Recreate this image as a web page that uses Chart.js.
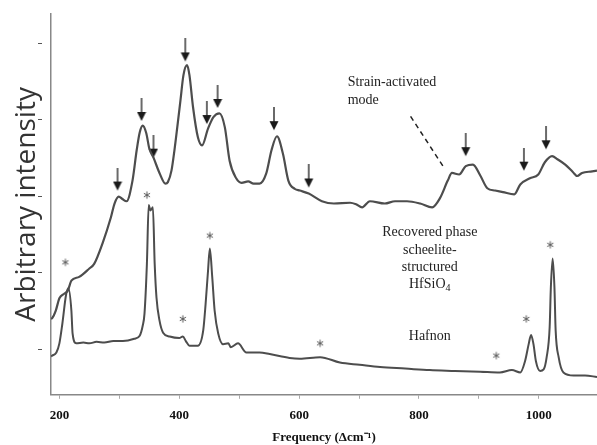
<!DOCTYPE html>
<html>
<head>
<meta charset="utf-8">
<script src="https://cdn.jsdelivr.net/npm/chart.js@4.4.1/dist/chart.umd.min.js"></script>
<style>
  body { margin: 0; background: #fff; }
  #wrap { width: 597px; height: 445px; }
</style>
</head>
<body>
<div id="wrap"><canvas id="myChart" width="597" height="445"></canvas></div>
<script>
// Raman spectra, frequency in Δcm-1, intensity in arbitrary units
const recFreq = [186, 188, 194, 200, 208, 214, 220, 233, 250, 258, 272, 286, 292, 299, 305, 312, 322, 329, 334, 339, 345, 350, 357, 367, 377, 381, 387, 392, 397, 402, 407, 413, 417, 423, 431, 438, 448, 457, 467, 476, 484, 495, 504, 515, 524, 534, 545, 554, 563, 573, 582, 593, 601, 616, 638, 658, 685, 695, 705, 718, 743, 760, 780, 802, 822, 835, 848, 855, 867, 878, 890, 902, 914, 927, 940, 959, 969, 985, 999, 1010, 1022, 1031, 1044, 1057, 1064, 1072, 1089, 1097];
const recInt = [0.39, 0.40, 0.50, 0.66, 0.72, 0.76, 0.89, 0.94, 1.05, 1.11, 1.38, 1.72, 1.90, 1.99, 1.96, 1.93, 2.20, 2.60, 2.83, 2.92, 2.82, 2.62, 2.50, 2.30, 2.16, 2.18, 2.33, 2.60, 2.92, 3.25, 3.58, 3.71, 3.58, 3.16, 2.77, 2.66, 2.88, 3.03, 3.08, 2.90, 2.46, 2.23, 2.17, 2.19, 2.16, 2.16, 2.29, 2.60, 2.78, 2.55, 2.20, 2.09, 2.07, 2.03, 1.93, 1.90, 1.91, 1.89, 1.85, 1.93, 1.90, 1.93, 1.93, 1.90, 1.85, 1.97, 2.20, 2.30, 2.28, 2.39, 2.41, 2.27, 2.10, 2.07, 2.05, 2.02, 2.15, 2.23, 2.28, 2.44, 2.52, 2.48, 2.41, 2.31, 2.26, 2.30, 2.32, 2.33];

const hafFreq = [186, 188, 195, 200, 205, 211, 215, 220, 222, 228, 240, 250, 262, 275, 290, 306, 325, 334, 339, 342, 346, 349, 352, 356, 359, 362, 367, 373, 384, 400, 406, 411, 417, 431, 440, 444, 448, 451, 455, 459, 465, 473, 482, 486, 498, 512, 534, 551, 584, 601, 635, 668, 701, 735, 777, 818, 860, 902, 935, 955, 969, 977, 983, 987, 991, 995, 1002, 1008, 1013, 1018, 1020, 1023, 1026, 1028, 1033, 1041, 1058, 1077, 1097];
const hafInt = [-0.10, -0.09, -0.05, 0.07, 0.33, 0.70, 0.79, 0.50, 0.20, 0.07, 0.08, 0.07, 0.09, 0.08, 0.10, 0.10, 0.13, 0.17, 0.30, 0.46, 1.11, 1.88, 1.81, 1.85, 1.11, 0.67, 0.37, 0.21, 0.16, 0.14, 0.16, 0.10, 0.04, 0.04, 0.24, 0.59, 1.02, 1.31, 0.94, 0.50, 0.20, 0.06, 0.07, 0.02, 0.07, -0.05, -0.05, -0.07, -0.12, -0.13, -0.11, -0.18, -0.21, -0.24, -0.26, -0.28, -0.29, -0.30, -0.31, -0.28, -0.31, -0.16, 0.06, 0.18, 0.06, -0.16, -0.29, -0.27, -0.11, 0.28, 0.80, 1.18, 0.80, 0.24, -0.11, -0.31, -0.35, -0.35, -0.37];

// arrow tips (strain / recovered phase bands)
const arrowFreq = [297, 337, 357, 410, 446, 464, 558, 616, 878, 975, 1012];
const arrowInt = [2.07, 2.98, 2.50, 3.76, 2.94, 3.15, 2.86, 2.11, 2.52, 2.33, 2.61];

// asterisks (hafnon bands)
const starFreq = [210, 346, 406, 451, 635, 929, 979, 1019];
const starInt = [1.13, 2.01, 0.39, 1.48, 0.07, -0.09, 0.39, 1.36];

const xTicks = [200, 300, 400, 500, 600, 700, 800, 900, 1000];
const yTicks = [0, 1, 2, 3, 4];

const strainText = ['Strain-activated', 'mode'];
const strainAt = [681, 3.49];
const dashFrom = [786, 3.04];
const dashTo = [840, 2.39];
const phaseText = ['Recovered phase', 'scheelite-', 'structured', 'HfSiO'];
const phaseAt = [818, 1.52];
const hafnonAt = [818, 0.16];

function makeArrow() {
    const c = document.createElement('canvas');
    c.width = 10; c.height = 46;
    const g = c.getContext('2d');
    g.strokeStyle = '#1a1a1a';
    g.fillStyle = '#1a1a1a';
    g.lineWidth = 1.3;
    g.beginPath();
    g.moveTo(5, 0); g.lineTo(5, 16);
    g.stroke();
    g.beginPath();
    g.moveTo(0.5, 14); g.lineTo(9.5, 14); g.lineTo(5, 23);
    g.closePath();
    g.fill();
    return c;
}

function makeStar() {
    const c = document.createElement('canvas');
    c.width = 10; c.height = 10;
    const g = c.getContext('2d');
    g.strokeStyle = '#555';
    g.lineWidth = 1;
    for (let a = 0; a < 3; a++) {
        const t = Math.PI / 2 + a * Math.PI / 3;
        g.beginPath();
        g.moveTo(5 - 3.6 * Math.cos(t), 5 - 3.6 * Math.sin(t));
        g.lineTo(5 + 3.6 * Math.cos(t), 5 + 3.6 * Math.sin(t));
        g.stroke();
    }
    return c;
}

function pts(xs, ys) {
    return xs.map((x, i) => ({ x: x, y: ys[i] }));
}

const notesPlugin = {
    id: 'notes',
    afterDraw(chart) {
        const ctx = chart.ctx;
        const xs = chart.scales.x, ys = chart.scales.y;
        ctx.save();
        // y tick marks, set off from the axis
        ctx.strokeStyle = '#555';
        ctx.lineWidth = 1;
        yTicks.forEach(v => {
            const py = Math.round(ys.getPixelForValue(v)) + 0.5;
            ctx.beginPath();
            ctx.moveTo(xs.left - 13, py);
            ctx.lineTo(xs.left - 9, py);
            ctx.stroke();
        });

        ctx.fillStyle = '#222';
        ctx.font = '14px "Liberation Serif"';
        ctx.textBaseline = 'middle';
        ctx.textAlign = 'left';
        strainText.forEach((t, i) => {
            ctx.fillText(t, xs.getPixelForValue(strainAt[0]), ys.getPixelForValue(strainAt[1]) + i * 18);
        });

        ctx.strokeStyle = '#222';
        ctx.lineWidth = 1.5;
        ctx.setLineDash([5, 4]);
        ctx.beginPath();
        ctx.moveTo(xs.getPixelForValue(dashFrom[0]), ys.getPixelForValue(dashFrom[1]));
        ctx.lineTo(xs.getPixelForValue(dashTo[0]), ys.getPixelForValue(dashTo[1]));
        ctx.stroke();
        ctx.setLineDash([]);

        ctx.textAlign = 'center';
        const cx = xs.getPixelForValue(phaseAt[0]);
        const cy = ys.getPixelForValue(phaseAt[1]);
        phaseText.forEach((t, i) => {
            if (i < phaseText.length - 1) {
                ctx.fillText(t, cx, cy + i * 17.3);
            } else {
                ctx.font = '14px "Liberation Serif"';
                const w = ctx.measureText(t).width;
                ctx.font = '10px "Liberation Serif"';
                const w2 = ctx.measureText('4').width;
                ctx.font = '14px "Liberation Serif"';
                ctx.textAlign = 'left';
                const x0 = cx - (w + w2) / 2;
                ctx.fillText(t, x0, cy + i * 17.3);
                ctx.font = '10px "Liberation Serif"';
                ctx.fillText('4', x0 + w, cy + i * 17.3 + 4);
                ctx.font = '14px "Liberation Serif"';
                ctx.textAlign = 'center';
            }
        });
        ctx.fillText('Hafnon', xs.getPixelForValue(hafnonAt[0]), ys.getPixelForValue(hafnonAt[1]));
        ctx.restore();
    }
};

const ctx = document.getElementById('myChart').getContext('2d');
const chart = new Chart(ctx, {
    type: 'line',
    data: {
        datasets: [{
            label: 'Recovered phase',
            data: pts(recFreq, recInt),
            borderColor: '#4d4d4d',
            borderWidth: 2.2,
            pointRadius: 0,
            cubicInterpolationMode: 'monotone',
            fill: false
        }, {
            label: 'Hafnon',
            data: pts(hafFreq, hafInt),
            borderColor: '#4d4d4d',
            borderWidth: 2,
            pointRadius: 0,
            cubicInterpolationMode: 'monotone',
            fill: false
        }, {
            label: 'arrows',
            data: pts(arrowFreq, arrowInt),
            showLine: false,
            pointStyle: makeArrow(),
            pointRadius: 5
        }, {
            label: 'stars',
            data: pts(starFreq, starInt),
            showLine: false,
            pointStyle: makeStar(),
            pointRadius: 5
        }]
    },
    options: {
        responsive: false,
        animation: false,
        layout: { autoPadding: false, padding: { left: 0, top: 14, right: 0, bottom: 0 } },
        plugins: {
            legend: { display: false },
            tooltip: { enabled: false }
        },
        scales: {
            x: {
                type: 'linear',
                min: 186,
                max: 1097,
                afterBuildTicks: (scale) => { scale.ticks = xTicks.map(v => ({ value: v })); },
                ticks: {
                    padding: 9,
                    color: '#111',
                    font: { family: '"Liberation Serif"', size: 13, weight: 'bold' },
                    maxRotation: 0,
                    callback: (v) => (v % 200 === 0 ? String(v) : '')
                },
                grid: { drawOnChartArea: false, tickLength: 4, color: '#aaa' },
                border: { color: '#888', width: 1.5 },
                title: {
                    display: true,
                    text: 'Frequency (\u0394cm\u207B\u00B9)',
                    color: '#111',
                    font: { family: '"Liberation Serif"', size: 13, weight: 'bold' },
                    padding: { top: -3, bottom: 0 }
                }
            },
            y: {
                type: 'linear',
                min: -0.603,
                max: 4.38,
                afterBuildTicks: (scale) => { scale.ticks = yTicks.map(v => ({ value: v })); },
                ticks: { display: false },
                grid: { drawOnChartArea: false, drawTicks: false },
                border: { color: '#888', width: 1.5 },
                title: {
                    display: true,
                    text: 'Arbitrary intensity',
                    color: '#333',
                    font: { family: '"Open Sans"', size: 28 },
                    padding: { top: 10, bottom: 7.4 }
                }
            }
        }
    },
    plugins: [notesPlugin]
});
</script>
</body>
</html>
